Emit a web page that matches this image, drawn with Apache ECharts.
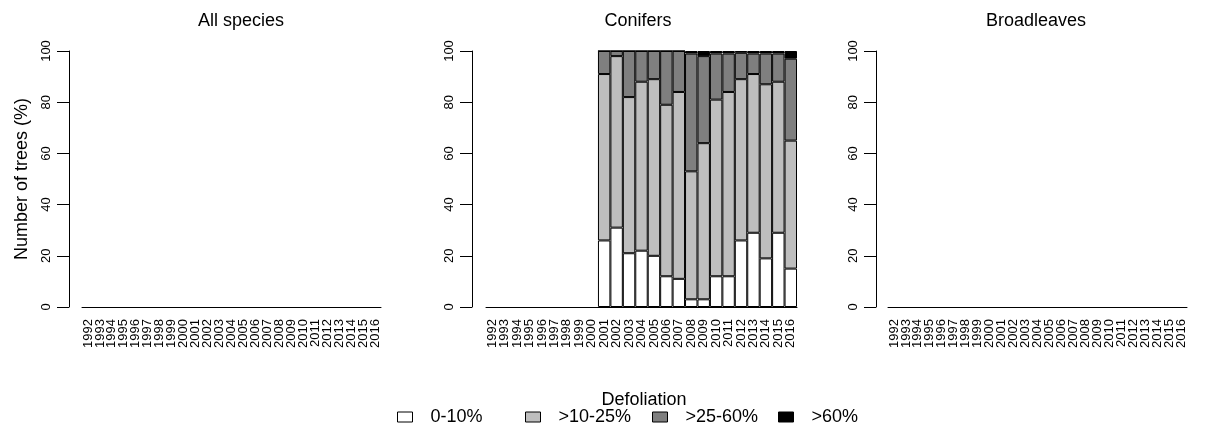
<!DOCTYPE html>
<html>
<head>
<meta charset="utf-8">
<script src="https://cdn.jsdelivr.net/npm/echarts@6/dist/echarts.min.js"></script>
<style>
  html, body { margin: 0; padding: 0; background: #fff; }
  #chart { width: 1207px; height: 435px; }
</style>
</head>
<body>
<div id="chart"></div>
<script>
// categories (years shown on every panel)
const years = ['1992', '1993', '1994', '1995', '1996', '1997', '1998', '1999', '2000',
  '2001', '2002', '2003', '2004', '2005', '2006', '2007', '2008', '2009', '2010',
  '2011', '2012', '2013', '2014', '2015', '2016']

const panelTitles = ['All species', 'Conifers', 'Broadleaves']
const classNames = ['0-10%', '>10-25%', '>25-60%', '>60%']
const yTicks = [0, 20, 40, 60, 80, 100]

// Conifers, % of trees per defoliation class (no survey before 2001)
const conif0to10 = [null, null, null, null, null, null, null, null, null,
  26, 31, 21, 22, 20, 12, 11, 3, 3, 12, 12, 26, 29, 19, 29, 15]
const conif10to25 = [null, null, null, null, null, null, null, null, null,
  65, 67, 61, 66, 69, 67, 73, 50, 61, 69, 72, 63, 62, 68, 59, 50]
const conif25to60 = [null, null, null, null, null, null, null, null, null,
  9, 2, 18, 12, 11, 21, 16, 46, 34, 18, 15, 10.3, 8, 12, 11, 32]
const conifOver60 = [null, null, null, null, null, null, null, null, null,
  0, 0, 0, 0, 0, 0, 0, 1, 2, 1, 1, 0.7, 1, 1, 1, 3]

const colors = ['#ffffff', '#bebebe', '#7f7f7f', '#000000']
const font = 'Liberation Sans, Arial, sans-serif'

const chart = echarts.init(document.getElementById('chart'))

const grids = [
  { left: 82, width: 299, top: 51, bottom: 128, offset: 13 },
  { left: 486, width: 311, top: 51, bottom: 128, offset: 14 },
  { left: 888, width: 299, top: 51, bottom: 128, offset: 12 },
]
const titleCenters = [236, 633, 1031]
const legendLefts = [397, 525, 652, 778]

const option = {
  animation: false,
  textStyle: { fontFamily: font },
  title: [
    ...panelTitles.map((t, i) => ({
      text: t,
      left: titleCenters[i],
      top: 7,
      textAlign: 'center',
      textStyle: { fontSize: 18, fontWeight: 'normal', color: '#000', fontFamily: font },
    })),
    {
      text: 'Defoliation',
      left: 639,
      top: 386,
      textAlign: 'center',
      textStyle: { fontSize: 18, fontWeight: 'normal', color: '#000', fontFamily: font },
    },
  ],
  legend: classNames.map((n, i) => ({
    data: [n],
    left: legendLefts[i],
    top: 408,
    padding: 0,
    icon: 'rect',
    itemWidth: 15,
    itemHeight: 10,
    selectedMode: false,
    itemStyle: { borderColor: '#000', borderWidth: 1 },
    textStyle: { fontSize: 18, color: '#000', fontFamily: font, padding: [0, 0, 0, 13] },
  })),
  grid: grids.map(g => ({ left: g.left, width: g.width, top: g.top, bottom: g.bottom })),
  xAxis: grids.map((g, i) => ({
    type: 'category',
    gridIndex: i,
    data: years,
    boundaryGap: true,
    axisLine: { lineStyle: { color: '#000', width: 1 } },
    axisTick: { length: 6, interval: 0, lineStyle: { color: '#000' } },
    axisLabel: {
      rotate: 90,
      interval: 0,
      margin: 12,
      fontSize: 13,
      color: '#000',
      fontFamily: font,
      hideOverlap: false,
    },
  })),
  yAxis: grids.map((g, i) => ({
    type: 'value',
    gridIndex: i,
    min: yTicks[0],
    max: yTicks[yTicks.length - 1],
    interval: 20,
    offset: g.offset,
    name: i === 0 ? 'Number of trees (%)' : '',
    nameLocation: 'middle',
    nameGap: 38,
    nameTextStyle: { fontSize: 18, color: '#000', fontFamily: font },
    splitLine: { show: false },
    axisLine: { show: true, lineStyle: { color: '#000', width: 1 } },
    axisTick: { show: true, length: 12, lineStyle: { color: '#000' } },
    axisLabel: { rotate: 90, margin: 16, fontSize: 13, color: '#000', fontFamily: font },
  })),
  series: [conif0to10, conif10to25, conif25to60, conifOver60].map((d, k) => ({
    name: classNames[k],
    type: 'bar',
    xAxisIndex: 1,
    yAxisIndex: 1,
    stack: 'conifers',
    data: d,
    barCategoryGap: '0%',
    itemStyle: { color: colors[k], borderColor: '#000', borderWidth: 1 },
  })),
}

chart.setOption(option)
</script>
</body>
</html>
